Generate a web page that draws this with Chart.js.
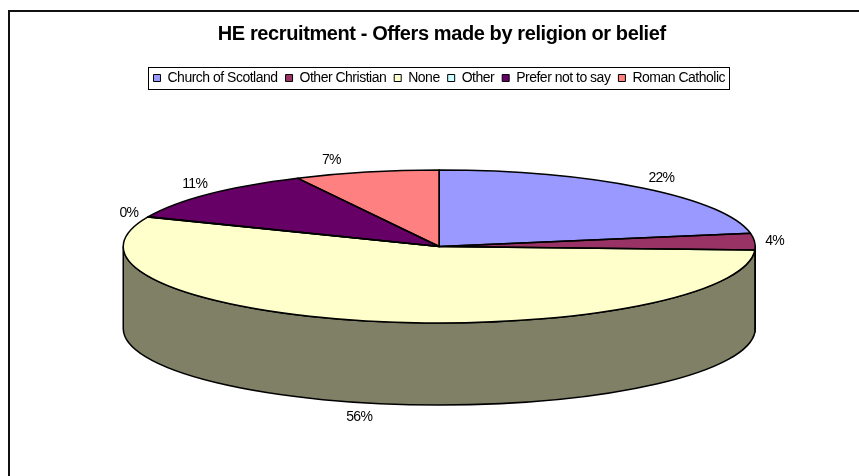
<!DOCTYPE html>
<html>
<head>
<meta charset="utf-8">
<style>html,body{margin:0;padding:0;background:#fff}canvas{display:block}</style>
<script src="https://cdn.jsdelivr.net/npm/chart.js@4"></script>
</head>
<body>
<canvas id="c" width="859" height="476"></canvas>
<script>
const titleText = 'HE recruitment - Offers made by religion or belief';
const categories = ['Church of Scotland','Other Christian','None','Other','Prefer not to say','Roman Catholic'];
const offers = [22.2, 3.5, 55.5, 0.1, 11.2, 7.4];
const colors = ['#9999FF','#993366','#FFFFCC','#CCFFFF','#660066','#FF8080'];
const wallColors = ['#4D4D80','#4D1A33','#808066','#668080','#330033','#804040'];

const RX = 316, RY = 76.5, DEPTH = 82;
const labelNudge = [[19,-10],[20,0],[-11,14],[-19,-4],[-14,-10],[-35,-12]];
const TITLE_TRACK = '-0.4px', LEGEND_TRACK = '-0.5px', LABEL_TRACK = '-0.7px';

const pie3d = {
  id: 'pie3d',
  beforeLayout(chart){ chart.ctx.letterSpacing = LEGEND_TRACK; },
  afterLayout(chart){ chart.ctx.letterSpacing = '0px'; },
  beforeDraw(chart){
    const ctx = chart.ctx;
    [[chart.titleBlock,TITLE_TRACK,2.5,1],[chart.legend,LEGEND_TRACK,0,0]].forEach(([box,track,dx,dy])=>{
      if (box && !box._tracked){
        const orig = box.draw.bind(box);
        box.draw = function(area){
          ctx.save();
          ctx.translate(dx,dy);
          ctx.letterSpacing = track;
          orig(area);
          ctx.restore();
        };
        box._tracked = true;
      }
    });
    ctx.save();
    ctx.fillStyle = '#111';
    ctx.fillRect(8,10,851,2);
    ctx.fillRect(8,10,2,466);
    ctx.restore();
  },
  beforeDatasetsDraw(chart){
    const ctx = chart.ctx, arcs = chart.getDatasetMeta(0).data;
    const cx = arcs[0].x, cy = arcs[0].y, r = arcs[0].outerRadius;
    ctx.save();
    ctx.lineWidth = 1.5; ctx.strokeStyle = '#000'; ctx.lineJoin = 'round';
    arcs.forEach((a,i)=>{
      const s = Math.max(a.startAngle,0), e = Math.min(a.endAngle,Math.PI);
      if (e <= s) return;
      ctx.beginPath();
      ctx.ellipse(cx,cy,RX,RY,0,s,e);
      ctx.ellipse(cx,cy+DEPTH,RX,RY,0,e,s,true);
      ctx.closePath();
      ctx.fillStyle = wallColors[i];
      ctx.fill(); ctx.stroke();
    });
    ctx.restore();
    ctx.save();
    ctx.translate(cx,cy);
    ctx.scale(RX/r,RY/r);
    ctx.translate(-cx,-cy);
  },
  afterDatasetsDraw(chart){
    const ctx = chart.ctx, arcs = chart.getDatasetMeta(0).data;
    ctx.restore();
    const cx = arcs[0].x, cy = arcs[0].y;
    ctx.save();
    ctx.lineWidth = 1.5; ctx.strokeStyle = '#000'; ctx.lineJoin = 'round';
    arcs.forEach(a=>{
      ctx.beginPath();
      ctx.moveTo(cx,cy);
      ctx.ellipse(cx,cy,RX,RY,0,a.startAngle,a.endAngle);
      ctx.closePath();
      ctx.stroke();
    });
    ctx.restore();
  },
  afterDraw(chart){
    const ctx = chart.ctx, arcs = chart.getDatasetMeta(0).data;
    const cx = arcs[0].x, cy = arcs[0].y;
    const total = offers.reduce((p,v)=>p+v,0);
    ctx.save();
    ctx.font = '14px "Liberation Sans"';
    ctx.letterSpacing = LABEL_TRACK;
    ctx.fillStyle = '#000';
    ctx.textAlign = 'center'; ctx.textBaseline = 'middle';
    arcs.forEach((a,i)=>{
      const m = (a.startAngle+a.endAngle)/2;
      const front = Math.sin(m) > 0.5 ? DEPTH : 0;
      const x = cx + RX*Math.cos(m) + labelNudge[i][0];
      const y = cy + RY*Math.sin(m) + front + labelNudge[i][1];
      ctx.fillText(Math.round(offers[i]/total*100)+'%', x, y);
    });
    const hb = chart.legend.legendHitBoxes;
    const l = Math.min(...hb.map(b=>b.left))-5, t = Math.min(...hb.map(b=>b.top))-4;
    const rr = Math.max(...hb.map(b=>b.left+b.width))+4, bb = Math.max(...hb.map(b=>b.top+b.height))+4;
    ctx.strokeStyle = '#000'; ctx.lineWidth = 1;
    ctx.strokeRect(Math.round(l)+.5,Math.round(t)+.5,Math.round(rr-l),Math.round(bb-t));
    ctx.restore();
  }
};

new Chart(document.getElementById('c'),{
  type:'pie',
  data:{labels:categories,datasets:[{data:offers,backgroundColor:colors,borderWidth:0,clip:false}]},
  plugins:[pie3d],
  options:{
    responsive:false,animation:false,
    layout:{padding:{left:123.5,right:104,top:0,bottom:78}},
    plugins:{
      tooltip:{enabled:false},
      title:{display:true,text:titleText,color:'#000',
        font:{family:'"Liberation Sans"',size:20,weight:'bold'},
        padding:{top:21,bottom:18}},
      legend:{display:true,position:'top',
        labels:{color:'#000',boxWidth:7,boxHeight:7,padding:8,
          font:{family:'"Liberation Sans"',size:14},
          generateLabels(chart){
            return categories.map((t,i)=>({text:t,fillStyle:colors[i],strokeStyle:'#000',lineWidth:1,index:i,hidden:false}));
          }}}
    }
  }
});
</script>
</body>
</html>
